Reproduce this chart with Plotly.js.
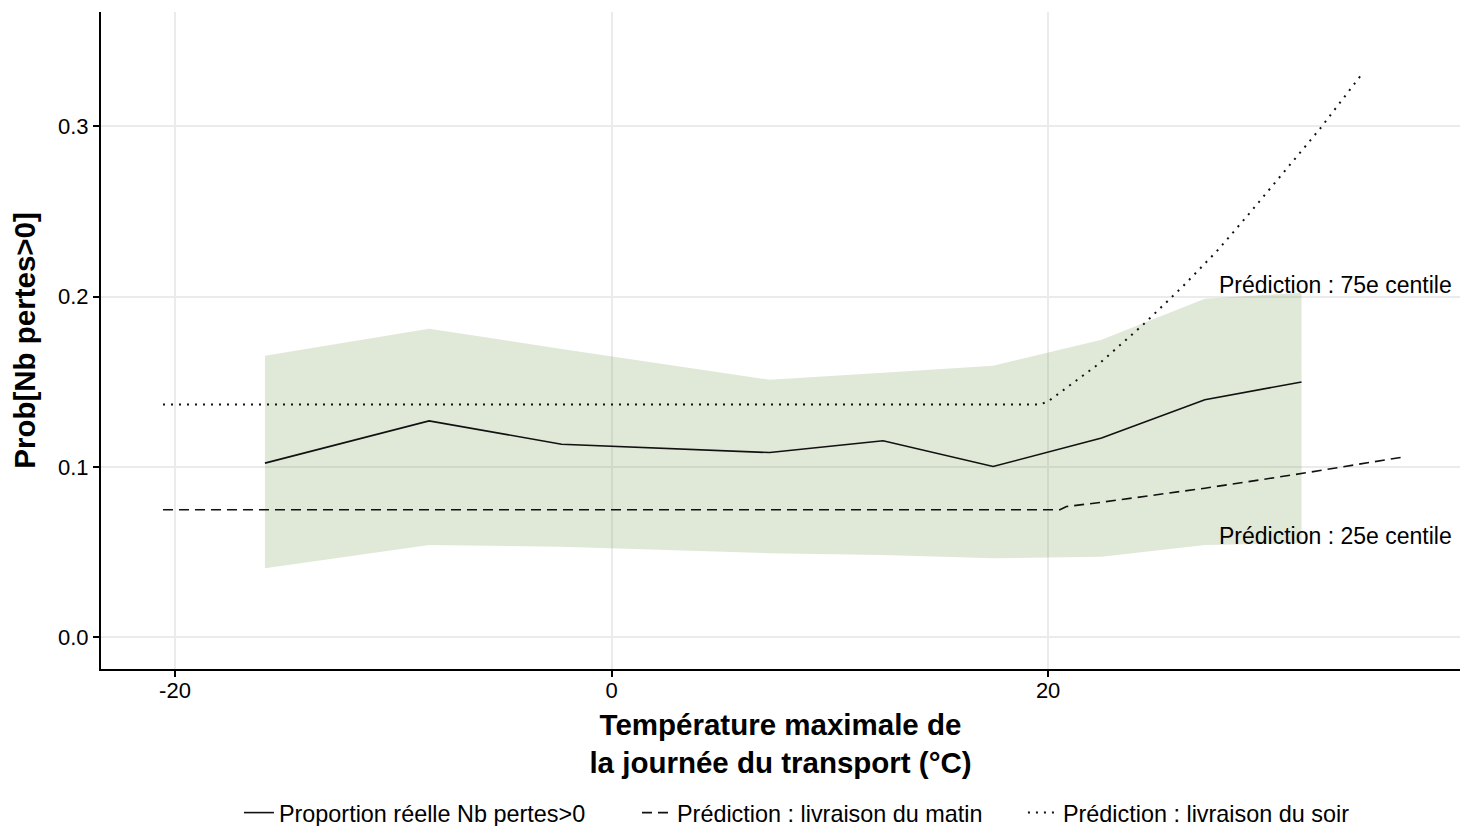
<!DOCTYPE html>
<html>
<head>
<meta charset="utf-8">
<script src="https://cdn.plot.ly/plotly-3.0.1.min.js"></script>
<style>html,body{margin:0;padding:0;background:#fff;}</style>
</head>
<body>
<div id="chart" style="width:1466px;height:826px;"></div>
<script>
// Observed proportion (binned temperature)
const obsTemp = [-15.88, -8.36, -2.29, 7.25, 12.44, 17.48, 22.45, 27.18, 31.61];
const obsProp = [0.1023, 0.1271, 0.1134, 0.1085, 0.1154, 0.1003, 0.1170, 0.1395, 0.1499];
const obsUpper = [0.1653, 0.1812, 0.1693, 0.1512, 0.1553, 0.1594, 0.1747, 0.1988, 0.2023];
const obsLower = [0.0406, 0.0543, 0.0533, 0.0494, 0.0484, 0.0465, 0.0473, 0.0543, 0.0553];

// Prediction: morning delivery
const matinTemp = [-20.55, 20.54, 20.84, 22.37, 27.18, 31.22, 36.42];
const matinProb = [0.0749, 0.0749, 0.0768, 0.0792, 0.0876, 0.0954, 0.1062];

// Prediction: evening delivery
const soirTemp = [-20.55, 19.62, 20.0, 22.37, 24.35, 26.18, 27.79, 29.24, 32.45, 34.40];
const soirProb = [0.1367, 0.1367, 0.1385, 0.1610, 0.1835, 0.2061, 0.2275, 0.2491, 0.2984, 0.3310];

const legendNames = ['Proportion réelle Nb pertes>0', 'Prédiction : livraison du matin', 'Prédiction : livraison du soir'];
const yTicks = [0, 0.1, 0.2, 0.3];
const yTickText = ['0.0', '0.1', '0.2', '0.3'];
const xTicks = [-20, 0, 20];
const labels = ['Prédiction : 75e centile', 'Prédiction : 25e centile'];
const labelY = [0.2066, 0.0598];
const labelX = 38.59;

const FONT = 'Liberation Sans, Arial, sans-serif';

const traces = [
  {
    x: obsTemp.concat(obsTemp.slice().reverse()),
    y: obsUpper.concat(obsLower.slice().reverse()),
    type: 'scatter', mode: 'lines', fill: 'toself',
    fillcolor: 'rgba(100,140,60,0.2)', line: {width: 0},
    showlegend: false, hoverinfo: 'skip'
  },
  {
    x: obsTemp, y: obsProp, type: 'scatter', mode: 'lines',
    name: legendNames[0], legend: 'legend', line: {color: '#111', width: 1.6}
  },
  {
    x: matinTemp, y: matinProb, type: 'scatter', mode: 'lines',
    name: legendNames[1], legend: 'legend2', line: {color: '#111', width: 1.6, dash: '10px,6px'}
  },
  {
    x: soirTemp, y: soirProb, type: 'scatter', mode: 'lines',
    name: legendNames[2], legend: 'legend3', line: {color: '#111', width: 2, dash: '2px,6px'}
  }
];

function leg(xp) {
  return {
    orientation: 'h', x: xp, xanchor: 'left', y: -0.219, yanchor: 'middle',
    font: {size: 23.4, color: '#000', family: FONT}, bgcolor: 'rgba(0,0,0,0)'
  };
}

const layout = {
  width: 1466, height: 826,
  margin: {l: 101, r: 6, t: 12, b: 157, autoexpand: false},
  paper_bgcolor: '#fff', plot_bgcolor: '#fff',
  font: {family: FONT, color: '#000', size: 22},
  xaxis: {
    range: [-23.39, 38.87], tickvals: xTicks, ticktext: xTicks.map(String),
    showgrid: true, gridcolor: '#ebebeb', gridwidth: 2, zeroline: false,
    showline: true, linecolor: '#000', linewidth: 2,
    ticks: 'outside', ticklen: 6, tickwidth: 2, tickcolor: '#000',
    ticklabelstandoff: -5,
    tickfont: {size: 22, color: '#000'},
    title: {text: 'Température maximale de<br>la journée du transport (°C)', font: {size: 29.5, weight: 'bold', color: '#000'}, standoff: 12}
  },
  yaxis: {
    range: [-0.0185, 0.367], tickvals: yTicks, ticktext: yTickText,
    showgrid: true, gridcolor: '#ebebeb', gridwidth: 2, zeroline: false,
    showline: true, linecolor: '#000', linewidth: 2,
    ticks: 'outside', ticklen: 6, tickwidth: 2, tickcolor: '#000',
    tickfont: {size: 22, color: '#000'},
    title: {text: 'Prob[Nb pertes>0]', font: {size: 29.5, weight: 'bold', color: '#000'}, standoff: 14}
  },
  showlegend: true,
  legend: leg(0.1015),
  legend2: leg(0.3944),
  legend3: leg(0.6784),
  annotations: labels.map((t, i) => ({
    x: labelX, y: labelY[i], xref: 'x', yref: 'y', text: t, showarrow: false,
    xanchor: 'right', yanchor: 'middle', font: {size: 23, color: '#000', family: FONT}
  }))
};

Plotly.newPlot('chart', traces, layout, {displayModeBar: false, staticPlot: true});
</script>
</body>
</html>
